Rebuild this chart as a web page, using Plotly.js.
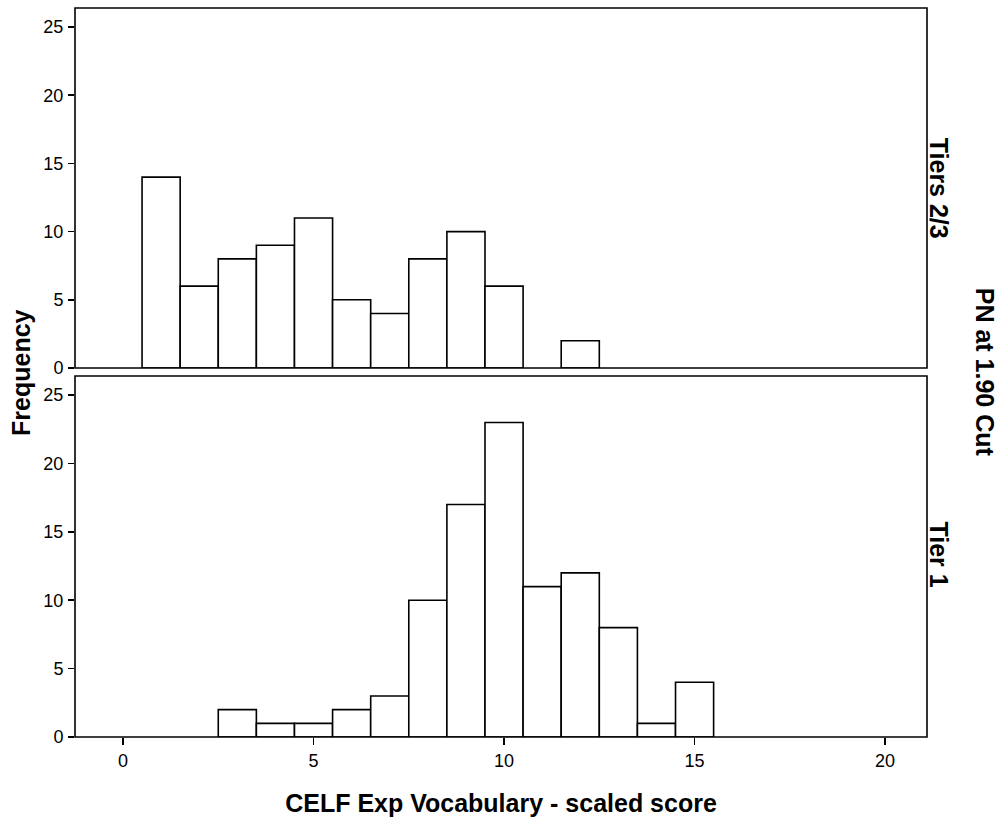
<!DOCTYPE html>
<html>
<head>
<meta charset="utf-8">
<script src="https://cdn.plot.ly/plotly-3.0.1.min.js"></script>
<style>
  html, body { margin: 0; padding: 0; background: #fff; }
  #chart { width: 1000px; height: 822px; }
</style>
</head>
<body>
<div id="chart"></div>
<script>
// CELF Expressive Vocabulary scaled scores, frequency per score, by tier group
const scores = [0, 1, 2, 3, 4, 5, 6, 7, 8, 9, 10, 11, 12, 13, 14, 15, 16, 17, 18, 19, 20];
const tiers23Counts = [0, 14, 6, 8, 9, 11, 5, 4, 8, 10, 6, 0, 2, 0, 0, 0, 0, 0, 0, 0, 0];
const tier1Counts  = [0, 0, 0, 2, 1, 1, 2, 3, 10, 17, 23, 11, 12, 8, 1, 4, 0, 0, 0, 0, 0];
const xTicks = [0, 5, 10, 15, 20];
const yTicks = [0, 5, 10, 15, 20, 25];
const panelLabels = ["Tiers 2/3", "Tier 1"];

const font = "Arial, 'Liberation Sans', sans-serif";

function barTrace(counts, xaxis, yaxis) {
  const xs = [], ys = [];
  scores.forEach((s, i) => { if (counts[i] > 0) { xs.push(s); ys.push(counts[i]); } });
  return {
    type: 'bar', x: xs, y: ys, width: 1, xaxis: xaxis, yaxis: yaxis,
    marker: { color: '#ffffff', line: { color: '#000000', width: 1.6 } },
    hoverinfo: 'x+y', showlegend: false
  };
}

const data = [
  barTrace(tiers23Counts, 'x2', 'y2'),
  barTrace(tier1Counts, 'x', 'y')
];

const yAxisBase = {
  range: [0, 26.4], tickvals: yTicks, ticks: 'outside', ticklen: 6, tickwidth: 1.6,
  tickcolor: '#000', showline: false, showgrid: false, zeroline: false,
  tickfont: { family: font, size: 18, color: '#000' }, ticklabelstandoff: 1,
  fixedrange: true
};

// frame drawn around each panel
function frame(xref, yref) {
  return {
    type: 'rect', xref: xref + ' domain', yref: yref + ' domain',
    x0: 0, x1: 1, y0: 0, y1: 1, layer: 'above',
    line: { color: '#000', width: 1.6 }, fillcolor: 'rgba(0,0,0,0)'
  };
}

const layout = {
  width: 1000, height: 822,
  margin: { l: 75, r: 73, t: 8, b: 85 },
  paper_bgcolor: '#fff', plot_bgcolor: '#fff',
  bargap: 0,
  font: { family: font, color: '#000' },
  xaxis: {
    range: [-1.26, 21.1], tickvals: xTicks, ticks: 'outside', ticklen: 7, tickwidth: 1.6,
    tickcolor: '#000', showline: false, showgrid: false, zeroline: false, anchor: 'y',
    tickfont: { family: font, size: 18, color: '#000' },
    title: { text: 'CELF Exp Vocabulary - scaled score', font: { family: font, size: 25, color: '#000', weight: 'bold' }, standoff: 24 }
  },
  xaxis2: {
    matches: 'x', anchor: 'y2', showticklabels: false, ticks: '',
    showline: false, showgrid: false, zeroline: false
  },
  yaxis: Object.assign({}, yAxisBase, { domain: [0, 0.4952], anchor: 'x' }),
  yaxis2: Object.assign({}, yAxisBase, { domain: [0.5062, 1], anchor: 'x2' }),
  shapes: [frame('x', 'y'), frame('x2', 'y2')],
  annotations: [
    { text: '<b>Frequency</b>', xref: 'paper', yref: 'paper', x: -0.064, y: 0.5, textangle: -90,
      showarrow: false, font: { family: font, size: 25, color: '#000' }, xanchor: 'center', yanchor: 'middle' },
    { text: '<b>' + panelLabels[0] + '</b>', xref: 'paper', yref: 'paper', x: 1.0145, y: 0.753, textangle: 90,
      showarrow: false, font: { family: font, size: 25, color: '#000' }, xanchor: 'center', yanchor: 'middle' },
    { text: '<b>' + panelLabels[1] + '</b>', xref: 'paper', yref: 'paper', x: 1.0145, y: 0.25, textangle: 90,
      showarrow: false, font: { family: font, size: 25, color: '#000' }, xanchor: 'center', yanchor: 'middle' },
    { text: '<b>PN at 1.90 Cut</b>', xref: 'paper', yref: 'paper', x: 1.069, y: 0.5, textangle: 90,
      showarrow: false, font: { family: font, size: 25, color: '#000' }, xanchor: 'center', yanchor: 'middle' }
  ]
};

Plotly.newPlot('chart', data, layout, { displayModeBar: false, staticPlot: true });
</script>
</body>
</html>
